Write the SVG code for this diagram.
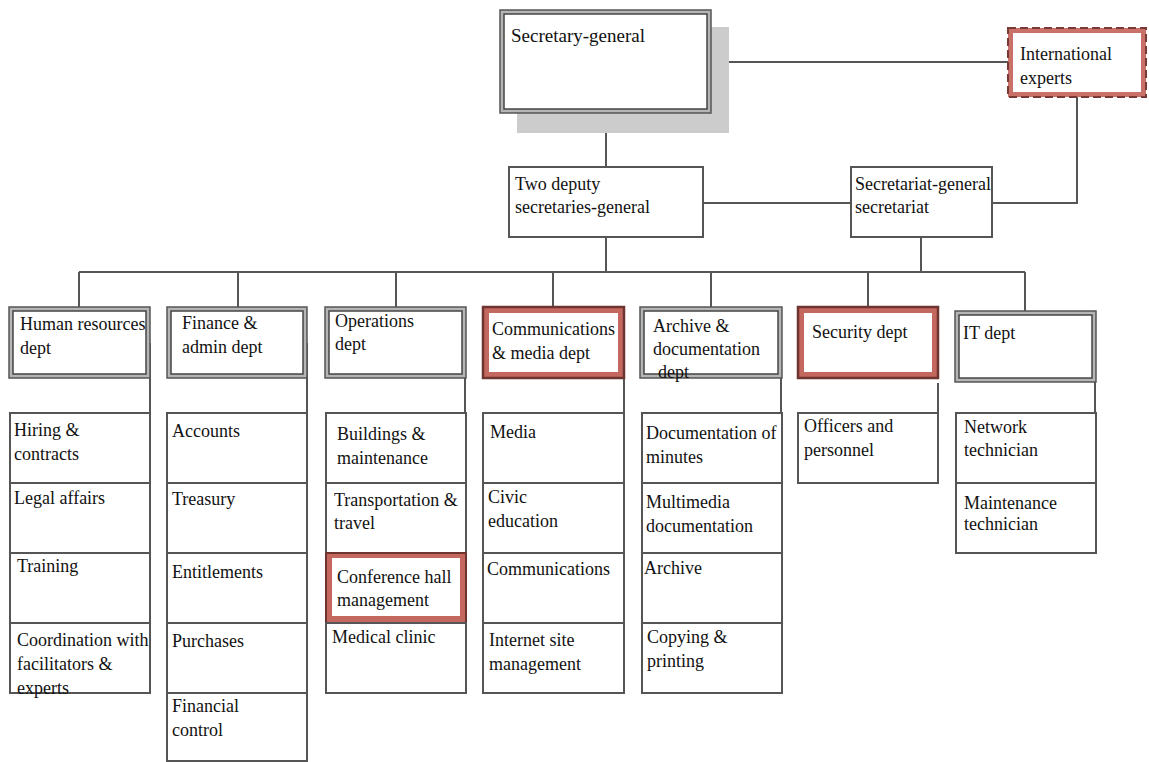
<svg xmlns="http://www.w3.org/2000/svg" width="1149" height="762" viewBox="0 0 1149 762">
<style>
text{font-family:"Liberation Serif","Times New Roman",serif;font-size:18px;fill:#111}
.ln{stroke:#555;stroke-width:2;fill:none}
.dbo{fill:#b5b5b5;stroke:#555;stroke-width:1.5}
.dbi{fill:#fff;stroke:#444;stroke-width:1.5}
.sub{fill:#fff;stroke:#555;stroke-width:2}
.rdo{fill:#c4675f;stroke:#6e3430;stroke-width:2.5}
.rdi{fill:#fff;stroke:none}
</style>
<rect width="1149" height="762" fill="#fff"/>
<g id="connectors">
<path class="ln" d="M711 62H1008M1077 97V203H992M606 113V167M703 203H851M606 237V272M921 237V272M79 272H1025M79 272V310M238 272V310M396 272V310M553 272V310M711 272V310M868 272V310M1025 272V312"/>
<path class="ln" d="M150 343V413M307 343V413M465 343V413M624 343V413M781 343V413M938 383V413M1095 382V413"/>
</g>
<g id="secretary-general">
<rect x="517" y="27" width="212" height="106" fill="#cccccc"/>
<rect x="500" y="10" width="211" height="103" class="dbo" stroke-width="2"/>
<rect x="504" y="14" width="203" height="95" class="dbi"/>
<text x="511" y="42" style="font-size:19px">Secretary-general</text>
</g>
<g id="international-experts">
<rect x="1008" y="28" width="138" height="69" fill="#c97068" stroke="#7a3a35" stroke-width="2" stroke-dasharray="8 4"/>
<rect x="1013" y="33" width="128" height="59" fill="#fff"/>
<text x="1020" y="60">International</text>
<text x="1020" y="84">experts</text>
</g>
<g id="deputies">
<rect x="509" y="167" width="194" height="70" class="sub"/>
<text x="515" y="190">Two deputy</text>
<text x="515" y="213">secretaries-general</text>
</g>
<g id="secretariat">
<rect x="851" y="167" width="141" height="70" class="sub"/>
<text x="855" y="190">Secretariat-general</text>
<text x="855" y="213">secretariat</text>
</g>
<g id="hr-dept">
<rect x="9" y="307" width="141" height="71" class="dbo"/>
<rect x="13" y="311" width="133" height="63" class="dbi"/>
<text x="20" y="330">Human resources</text>
<text x="20" y="354">dept</text>
</g>
<g id="finance-dept">
<rect x="167" y="307" width="140" height="71" class="dbo"/>
<rect x="171" y="311" width="132" height="63" class="dbi"/>
<text x="182" y="329">Finance &amp;</text>
<text x="182" y="353">admin dept</text>
</g>
<g id="operations-dept">
<rect x="325" y="307" width="141" height="71" class="dbo"/>
<rect x="329" y="311" width="133" height="63" class="dbi"/>
<text x="335" y="327">Operations</text>
<text x="335" y="350">dept</text>
</g>
<g id="communications-dept">
<rect x="483" y="307" width="141" height="71" class="rdo"/>
<rect x="489" y="313" width="129" height="59" class="rdi"/>
<text x="492" y="335">Communications</text>
<text x="492" y="359">&amp; media dept</text>
</g>
<g id="archive-dept">
<rect x="640" y="307" width="142" height="71" class="dbo"/>
<rect x="644" y="311" width="134" height="63" class="dbi"/>
<text x="653" y="332">Archive &amp;</text>
<text x="653" y="355">documentation</text>
<text x="658" y="378">dept</text>
</g>
<g id="security-dept">
<rect x="798" y="307" width="140" height="71" class="rdo"/>
<rect x="804" y="313" width="128" height="59" class="rdi"/>
<text x="812" y="338">Security dept</text>
</g>
<g id="it-dept">
<rect x="955" y="311" width="141" height="71" class="dbo"/>
<rect x="959" y="315" width="133" height="63" class="dbi"/>
<text x="963" y="339">IT dept</text>
</g>
<g id="hr-units">
<rect x="10" y="413" width="140" height="70" class="sub"/>
<rect x="10" y="483" width="140" height="70" class="sub"/>
<rect x="10" y="553" width="140" height="70" class="sub"/>
<rect x="10" y="623" width="140" height="70" class="sub"/>
<text x="14" y="436">Hiring &amp;</text>
<text x="14" y="460">contracts</text>
<text x="14" y="504">Legal affairs</text>
<text x="17" y="572">Training</text>
<text x="17" y="646">Coordination with</text>
<text x="17" y="670">facilitators &amp;</text>
<text x="17" y="694">experts</text>
</g>
<g id="finance-units">
<rect x="167" y="413" width="140" height="70" class="sub"/>
<rect x="167" y="483" width="140" height="70" class="sub"/>
<rect x="167" y="553" width="140" height="70" class="sub"/>
<rect x="167" y="623" width="140" height="70" class="sub"/>
<rect x="167" y="693" width="140" height="68" class="sub"/>
<text x="172" y="437">Accounts</text>
<text x="172" y="505">Treasury</text>
<text x="172" y="578">Entitlements</text>
<text x="172" y="647">Purchases</text>
<text x="172" y="712">Financial</text>
<text x="172" y="736">control</text>
</g>
<g id="operations-units">
<rect x="326" y="413" width="140" height="70" class="sub"/>
<rect x="326" y="483" width="140" height="70" class="sub"/>
<rect x="326" y="553" width="140" height="70" fill="#c4675f" stroke="#6e3430" stroke-width="2"/>
<rect x="332" y="558" width="128" height="58" fill="#fff"/>
<rect x="326" y="623" width="140" height="70" class="sub"/>
<text x="337" y="440">Buildings &amp;</text>
<text x="337" y="464">maintenance</text>
<text x="334" y="506">Transportation &amp;</text>
<text x="334" y="529">travel</text>
<text x="337" y="583">Conference hall</text>
<text x="337" y="606">management</text>
<text x="332" y="643">Medical clinic</text>
</g>
<g id="communications-units">
<rect x="483" y="413" width="141" height="70" class="sub"/>
<rect x="483" y="483" width="141" height="70" class="sub"/>
<rect x="483" y="553" width="141" height="70" class="sub"/>
<rect x="483" y="623" width="141" height="70" class="sub"/>
<text x="490" y="438">Media</text>
<text x="488" y="503">Civic</text>
<text x="488" y="527">education</text>
<text x="487" y="575">Communications</text>
<text x="489" y="646">Internet site</text>
<text x="489" y="670">management</text>
</g>
<g id="archive-units">
<rect x="642" y="413" width="140" height="70" class="sub"/>
<rect x="642" y="483" width="140" height="70" class="sub"/>
<rect x="642" y="553" width="140" height="70" class="sub"/>
<rect x="642" y="623" width="140" height="70" class="sub"/>
<text x="646" y="439">Documentation of</text>
<text x="646" y="463">minutes</text>
<text x="646" y="508">Multimedia</text>
<text x="646" y="532">documentation</text>
<text x="644" y="574">Archive</text>
<text x="647" y="643">Copying &amp;</text>
<text x="647" y="667">printing</text>
</g>
<g id="security-units">
<rect x="798" y="413" width="140" height="70" class="sub"/>
<text x="804" y="432">Officers and</text>
<text x="804" y="456">personnel</text>
</g>
<g id="it-units">
<rect x="956" y="413" width="140" height="70" class="sub"/>
<rect x="956" y="483" width="140" height="70" class="sub"/>
<text x="964" y="433">Network</text>
<text x="964" y="456">technician</text>
<text x="964" y="509">Maintenance</text>
<text x="964" y="530">technician</text>
</g>
</svg>
